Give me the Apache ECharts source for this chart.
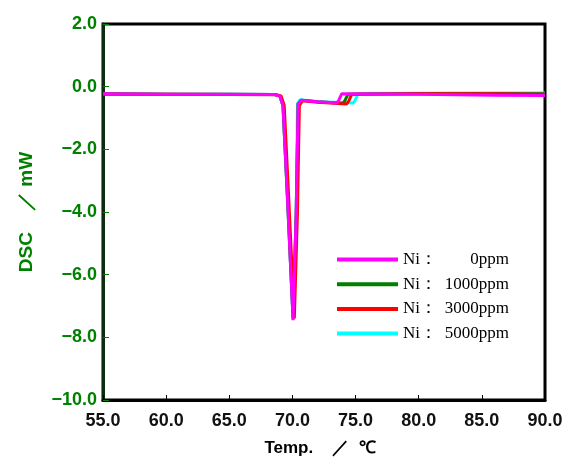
<!DOCTYPE html>
<html>
<head>
<meta charset="utf-8">
<title>DSC</title>
<script src="https://cdn.jsdelivr.net/npm/echarts@6/dist/echarts.min.js"></script>
<style>
  html, body { margin: 0; padding: 0; background: #fff; }
  #main { width: 568px; height: 457px; }
</style>
</head>
<body>
<div id="main"></div>
<script>
// legend labels
const names = ['0ppm', '1000ppm', '3000ppm', '5000ppm']

// axis tick labels
const xTicks = ['55.0', '60.0', '65.0', '70.0', '75.0', '80.0', '85.0', '90.0']
const yTicks = ['−10.0', '−8.0', '−6.0', '−4.0', '−2.0', '0.0', '2.0']

// Ni: 0ppm
const temp0 = [55.0, 60.0, 65.0, 68.6, 69.0, 69.25, 69.6, 70.05, 70.15, 70.3, 70.45, 70.7, 72.0, 73.5, 73.65, 73.9, 80.0, 86.0, 90.0]
const dsc0 = [-0.23, -0.24, -0.24, -0.25, -0.3, -0.6, -3.5, -7.45, -7.4, -4.0, -0.55, -0.43, -0.48, -0.52, -0.45, -0.23, -0.24, -0.27, -0.28]

// Ni: 1000ppm
const temp1 = [55.0, 60.0, 65.0, 68.6, 69.0, 69.25, 69.6, 70.05, 70.15, 70.3, 70.45, 70.7, 72.0, 74.0, 74.15, 74.4, 80.0, 86.0, 90.0]
const dsc1 = [-0.23, -0.24, -0.24, -0.25, -0.3, -0.6, -3.5, -7.4, -7.35, -4.0, -0.55, -0.43, -0.48, -0.53, -0.45, -0.24, -0.23, -0.23, -0.23]

// Ni: 3000ppm
const temp3 = [55.0, 60.0, 65.0, 68.7, 69.1, 69.35, 69.7, 70.15, 70.25, 70.4, 70.55, 70.8, 72.0, 74.3, 74.45, 74.7, 80.0, 86.0, 90.0]
const dsc3 = [-0.24, -0.24, -0.25, -0.26, -0.3, -0.6, -3.5, -7.4, -7.35, -4.0, -0.6, -0.45, -0.5, -0.55, -0.47, -0.24, -0.23, -0.23, -0.24]

// Ni: 5000ppm
const temp5 = [55.0, 60.0, 65.0, 68.6, 69.0, 69.25, 69.6, 70.05, 70.15, 70.3, 70.4, 70.6, 72.0, 74.8, 74.95, 75.2, 80.0, 86.0, 90.0]
const dsc5 = [-0.23, -0.24, -0.24, -0.25, -0.3, -0.6, -3.5, -7.4, -7.35, -4.0, -0.55, -0.42, -0.48, -0.52, -0.45, -0.22, -0.21, -0.2, -0.2]

const colors = ['#ff00ff', '#007f00', '#ff0000', '#00ffff']

function pairs(xs, ys) {
  return xs.map((x, i) => [x, ys[i]])
}

const chart = echarts.init(document.getElementById('main'))

// drawn back to front, magenta ends on top
const lineSeries = [
  { name: names[3], data: pairs(temp5, dsc5), color: colors[3] },
  { name: names[1], data: pairs(temp1, dsc1), color: colors[1] },
  { name: names[2], data: pairs(temp3, dsc3), color: colors[2] },
  { name: names[0], data: pairs(temp0, dsc0), color: colors[0] }
].map(s => ({
  name: s.name,
  type: 'line',
  data: s.data,
  symbol: 'none',
  smooth: false,
  color: s.color,
  lineStyle: { width: 3, color: s.color },
  animation: false
}))

chart.setOption({
  backgroundColor: '#fff',
  animation: false,
  grid: {
    left: 103,
    right: 23,
    top: 24,
    bottom: 57,
    outerBoundsMode: 'none',
    containLabel: false,
    show: true,
    borderColor: '#000',
    borderWidth: 3,
    backgroundColor: 'transparent'
  },
  legend: {
    data: names,
    orient: 'vertical',
    left: 332,
    top: 246,
    icon: 'rect',
    itemWidth: 61,
    itemHeight: 4,
    itemGap: 7.7,
    formatter: n => '{a|Ni：}{b|' + n + '}',
    textStyle: {
      fontFamily: 'Liberation Serif',
      fontSize: 17,
      lineHeight: 17,
      color: '#000',
      rich: {
        a: { width: 40, align: 'left', fontFamily: 'Liberation Serif', fontSize: 17, lineHeight: 17, color: '#000' },
        b: { width: 66, align: 'right', fontFamily: 'Liberation Serif', fontSize: 17, lineHeight: 17, color: '#000' }
      }
    }
  },
  xAxis: {
    type: 'value',
    min: 55,
    max: 90,
    interval: 5,
    name: 'Temp.    ／  ℃',
    nameLocation: 'middle',
    nameGap: 40,
    nameTextStyle: { fontFamily: 'Liberation Sans', fontWeight: 'bold', fontSize: 17, color: '#000', padding: [0, 8, 0, 0] },
    axisLine: { show: true, onZero: false, lineStyle: { color: '#000', width: 3 } },
    axisTick: { show: true, inside: true, length: 5, lineStyle: { color: '#000', width: 1 } },
    axisLabel: {
      margin: 12,
      fontFamily: 'Liberation Sans',
      fontWeight: 'bold',
      fontSize: 18,
      color: '#111',
      formatter: v => xTicks[Math.round((v - 55) / 5)]
    },
    splitLine: { show: false }
  },
  yAxis: {
    type: 'value',
    min: -10,
    max: 2,
    interval: 2,
    name: 'DSC    ／ mW',
    nameLocation: 'middle',
    nameGap: 67,
    nameRotate: 90,
    nameTextStyle: { fontFamily: 'Liberation Sans', fontWeight: 'bold', fontSize: 19, color: '#008000' },
    axisLine: { show: true, onZero: false, lineStyle: { color: '#0f2a0f', width: 3 } },
    axisTick: { show: true, inside: true, length: 6, lineStyle: { color: '#008000', width: 1 } },
    axisLabel: {
      margin: 6,
      fontFamily: 'Liberation Sans',
      fontWeight: 'bold',
      fontSize: 18,
      color: '#008000',
      formatter: v => yTicks[Math.round((v + 10) / 2)]
    },
    splitLine: { show: false }
  },
  series: lineSeries
})
</script>
</body>
</html>
